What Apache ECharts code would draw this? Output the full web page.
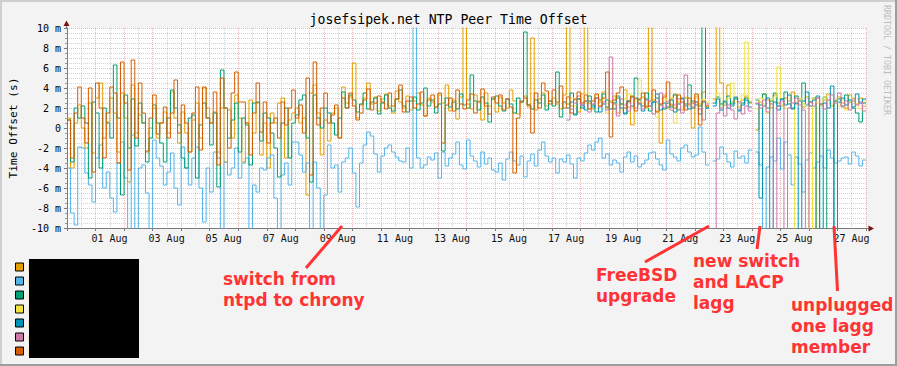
<!DOCTYPE html>
<html><head><meta charset="utf-8">
<script src="https://cdn.jsdelivr.net/npm/echarts@6/dist/echarts.min.js"></script>
<style>html,body{margin:0;padding:0;background:#F3F3F3;}#c{width:897px;height:366px;}</style>
</head><body><div id="c"></div><script>
// time: days since 31 Jul 00:00, one value every 3 hours (8 per day, 224 per series)
const stepDays = 0.125;
const xTickLabels = ['01 Aug','03 Aug','05 Aug','07 Aug','09 Aug','11 Aug','13 Aug','15 Aug','17 Aug','19 Aug','21 Aug','23 Aug','25 Aug','27 Aug'];
const yTickValues = [-10,-8,-6,-4,-2,0,2,4,6,8,10];
const yTickLabels = ['-10 m','-8 m','-6 m','-4 m','-2 m','0','2 m','4 m','6 m','8 m','10 m'];
const seriesNames = ['peer 1','peer 2','peer 3','peer 4','peer 5','peer 6','peer 7'];
const N = null;
const orangeVals = [
1.0,-4.0,0.5,2.3,0.0,-2.0,2.5,-2.5,
3.0,4.5,-1.0,0.6,3.0,1.5,-2.4,3.5,
1.0,-5.4,4.3,-0.5,1.3,0.5,-2.4,0.0,
2.0,-1.0,0.5,1.6,-0.5,3.6,1.0,-1.5,
1.6,-0.5,-2.4,0.8,2.5,-1.0,4.0,2.0,
0.5,1.6,-2.4,2.0,-3.4,1.8,-1.0,3.3,
1.0,-3.4,0.5,2.8,-0.5,2.5,-2.7,0.5,
-4.0,1.5,0.5,2.5,3.0,-3.0,0.8,1.5,
2.0,0.5,1.0,-6.7,3.5,4.3,1.5,-2.7,
0.8,-1.3,1.5,2.0,-1.0,4.1,2.5,3.1,
6.5,1.0,2.3,3.0,4.5,2.4,3.1,1.7,
2.9,3.4,2.2,1.5,3.7,2.6,2.0,3.2,
1.8,2.7,3.5,2.3,1.2,3.0,2.6,2.1,
3.3,2.5,4.3,1.7,2.8,0.9,3.1,11,
2.4,1.9,3.3,2.7,0.8,3.5,2.2,2.9,
1.6,3.1,2.5,2.0,3.8,2.7,1.4,2.6,
3.2,2.1,9.0,1.8,2.9,3.5,2.2,2.7,
3.0,2.4,1.9,3.3,11,2.2,2.8,1.6,
3.4,11,2.5,1.9,3.0,2.6,3.6,2.0,
2.7,3.2,1.5,2.4,3.8,2.1,0.3,2.9,
2.5,3.1,2.2,11,2.8,1.7,-1.5,3.3,
2.0,2.9,3.4,2.6,1.8,3.0,2.3,0.0,
3.1,2.4,3.6,2.2,N,2.9,11,4.5,
2.3,4.3,2.6,3.0,2.1,2.8,3.2,2.5,
N,-0.2,2.6,3.4,2.8,2.0,3.3,2.5,
2.2,3.0,2.7,3.6,2.4,2.9,2.1,3.1,
2.6,-15,3.0,2.3,2.8,3.4,2.2,2.7,
3.1,2.5,2.0,3.3,2.7,2.4,3.0,2.2];
const skyVals = [
-4.0,-8.5,-9.7,-1.9,-2.0,-4.5,-5.7,-7.4,
-3.0,-1.7,-6.0,-4.4,-7.0,-8.4,-3.5,-1.4,
-5.0,-10.5,-0.7,-10.5,-4.0,-3.7,-6.5,-10.5,
-1.2,-3.0,-3.8,-5.7,-4.4,-2.5,-6.0,-7.7,
-1.9,-4.0,-5.7,-3.0,-1.9,-6.0,-9.4,-4.0,
-6.4,-2.4,-3.0,-10.5,-3.4,-4.7,-4.0,-2.0,
-5.0,-3.5,-3.0,-10.5,-5.7,-6.4,-4.0,-4.2,
-3.0,-2.7,-7.0,-10.5,-4.7,-3.5,-5.7,-1.4,
-1.4,-2.7,-4.4,-3.5,-10.5,-3.4,-6.0,-10.5,
-6.7,-1.7,-4.0,-3.7,-6.4,-3.4,-3.0,-2.0,
-4.5,-7.9,-3.5,-1.7,-0.4,-0.8,-2.6,-4.4,
-2.8,-2.0,-1.7,-2.4,-2.9,-3.3,-3.4,-2.0,
-4.0,10.5,-3.0,-4.0,-3.7,-2.9,-3.2,-2.5,
-5.0,-2.4,-3.8,-3.0,-2.6,-1.4,-3.7,-4.1,
-1.2,-2.8,-3.3,-3.9,-2.4,-3.6,-3.0,-4.2,
-4.4,-3.5,-5.2,-3.1,-2.4,-3.3,-3.7,-2.8,
-4.9,-3.3,-2.6,-3.8,-2.2,-1.4,-2.8,-3.4,
-3.0,-4.5,-3.1,-3.4,-2.7,-3.6,-5.0,-3.0,
-3.3,-2.5,-1.7,-2.2,-1.4,-1.0,-3.0,-2.6,
-3.7,-3.2,-3.5,-4.4,-2.9,-2.4,-3.4,-2.8,
-3.9,-3.6,-3.2,-2.5,-2.4,-3.1,-3.7,-4.2,
-1.2,-2.6,-2.9,-3.3,-2.0,-1.7,-2.4,-2.9,
-2.7,0.1,-2.4,-3.7,N,-3.3,-3.1,-1.9,
-2.6,-3.4,-3.9,-2.3,-3.0,-2.8,-3.5,-2.2,
N,-2.4,-3.7,-10.5,-3.9,-2.9,-3.3,-1.0,
-4.1,-1.4,-2.7,-5.7,-2.9,-3.6,-6.4,-3.2,
-2.5,-4.0,-3.4,-2.8,-4.0,-2.2,-3.0,-3.5,
-3.3,-3.0,-2.9,-3.6,-2.4,-2.8,-3.8,-3.2];
const greenVals = [
0.8,-3.4,2.0,1.0,2.2,0.5,-5.0,2.6,
1.5,-4.0,2.0,0.5,-1.0,6.3,1.0,-6.7,
3.3,-2.0,2.9,-1.8,2.5,0.5,-3.4,-1.0,
2.3,0.5,-1.5,-3.4,1.0,3.8,2.0,0.3,
-3.0,-4.0,1.0,1.3,-5.0,0.3,2.5,1.0,
-1.7,1.5,-5.9,5.8,2.0,-1.0,0.8,2.5,
-2.4,1.0,0.3,-3.7,2.5,2.6,-1.3,1.5,
1.0,-0.5,-2.0,-4.9,0.5,2.0,-3.0,0.5,
1.3,2.8,3.3,-1.0,-5.4,3.3,1.0,0.0,
2.0,1.5,0.5,-0.7,1.0,3.6,2.0,3.3,
2.8,1.6,2.4,3.5,1.9,2.6,3.0,1.4,
2.5,3.3,2.0,1.7,2.9,3.8,2.2,1.6,
2.7,3.1,1.8,2.5,4.0,2.2,2.8,1.5,
2.4,-2.3,3.0,2.1,2.6,1.9,3.4,2.3,
2.0,5.3,2.7,1.8,3.1,2.5,0.6,2.9,
3.2,2.2,1.7,2.9,2.4,1.5,3.0,2.6,
9.6,2.3,1.9,2.8,2.5,3.3,1.8,2.7,
2.2,5.6,1.1,2.6,2.4,3.5,1.3,2.9,
2.0,2.7,3.2,2.3,1.6,2.8,3.4,2.1,
2.6,1.9,3.0,2.4,1.4,2.7,3.1,5.0,
2.8,2.2,3.5,1.7,2.6,3.0,2.3,1.9,
2.5,2.1,3.3,1.8,2.9,2.4,4.3,2.0,
2.6,2.2,11,2.0,N,2.5,3.1,2.4,
2.7,3.2,2.2,2.9,1.8,2.5,3.0,2.6,
N,2.8,2.3,3.4,2.0,2.7,3.5,2.2,
2.9,3.6,2.4,2.0,3.2,2.7,4.5,2.3,
2.6,3.0,-15,2.4,3.1,-15,-15,2.7,
2.9,2.2,3.3,2.6,2.0,1.5,0.6,2.5];
const yellowVals = [
N,N,N,N,N,N,N,N, N,N,N,N,N,N,N,N, N,N,N,N,N,N,N,N, N,N,N,N,N,N,N,N,
N,N,N,N,N,N,N,N, N,N,N,N,N,N,N,N, N,N,N,N,N,N,N,N, N,N,N,N,N,N,N,N,
N,N,N,N,N,N,N,N, N,N,N,N,N,N,N,N, N,N,N,N,N,N,N,N, N,N,N,N,N,N,N,N,
N,N,N,N,N,N,N,N, N,N,N,N,N,N,N,N, N,N,N,N,N,N,N,N, N,N,N,N,N,N,N,N,
N,N,N,N,N,N,N,N,
N,N,N,N,2.4,3.0,2.2,2.8,
3.1,2.5,1.9,2.7,3.3,2.2,2.9,1.5,
2.6,3.0,2.3,1.8,2.9,3.4,2.1,2.7,
4.8,2.5,2.0,2.9,3.2,1.1,2.4,2.8,
2.2,3.0,0.5,2.6,2.1,3.1,2.7,2.3,
3.3,2.4,2.9,2.6,N,2.8,3.5,2.2,
2.5,3.0,4.5,2.6,2.1,3.3,8.6,2.7,
N,1.9,3.0,2.4,1.5,2.8,3.1,6.1,
2.3,2.0,-15,-15,2.6,3.0,2.4,2.2,
-15,3.0,2.5,2.2,3.1,2.7,2.4,2.9,
2.2,2.8,1.8,2.6,3.0,2.4,1.9,2.7];
const blueVals = [
N,N,N,N,N,N,N,N, N,N,N,N,N,N,N,N, N,N,N,N,N,N,N,N, N,N,N,N,N,N,N,N,
N,N,N,N,N,N,N,N, N,N,N,N,N,N,N,N, N,N,N,N,N,N,N,N, N,N,N,N,N,N,N,N,
N,N,N,N,N,N,N,N, N,N,N,N,N,N,N,N, N,N,N,N,N,N,N,N, N,N,N,N,N,N,N,N,
N,N,N,N,N,N,N,N, N,N,N,N,N,N,N,N, N,N,N,N,N,N,N,N, N,N,N,N,N,N,N,N,
N,N,N,N,N,N,N,N,
N,N,N,N,2.0,2.6,1.4,2.9,
2.3,1.8,2.7,2.1,3.0,1.6,2.4,2.8,
1.9,2.5,3.2,2.0,1.5,2.7,2.2,3.0,
2.4,1.7,2.9,2.2,2.6,3.4,1.8,2.5,
2.1,2.8,1.6,2.4,3.0,2.2,1.9,2.7,
2.3,1.4,2.6,2.0,N,2.2,2.9,1.8,
2.6,2.0,2.4,3.1,1.7,2.3,2.8,2.1,
N,2.4,-7.0,2.2,3.0,-15,2.6,1.8,
2.9,2.3,3.3,1.9,2.5,-15,2.7,3.6,
2.2,2.8,3.2,-15,2.5,2.0,4.2,-15,
2.6,3.0,2.3,2.8,2.1,3.4,2.5,2.9];
const pinkVals = [
N,N,N,N,N,N,N,N, N,N,N,N,N,N,N,N, N,N,N,N,N,N,N,N, N,N,N,N,N,N,N,N,
N,N,N,N,N,N,N,N, N,N,N,N,N,N,N,N, N,N,N,N,N,N,N,N, N,N,N,N,N,N,N,N,
N,N,N,N,N,N,N,N, N,N,N,N,N,N,N,N, N,N,N,N,N,N,N,N, N,N,N,N,N,N,N,N,
N,N,N,N,N,N,N,N, N,N,N,N,N,N,N,N, N,N,N,N,N,N,N,N, N,N,N,N,N,N,N,N,
N,N,N,N,N,N,N,N,
N,N,N,N,0.8,1.9,2.5,3.2,
2.2,2.7,1.6,2.4,3.0,2.1,2.6,1.8,
7.1,2.4,1.2,2.9,2.3,1.7,3.1,2.0,
2.5,1.9,2.8,2.2,1.4,2.6,3.5,2.0,
2.7,1.8,2.3,2.9,1.5,5.3,2.4,2.1,
2.6,1.9,0.8,2.4,N,-15,1.5,2.0,
1.2,2.3,1.8,0.9,2.6,1.4,2.2,1.7,
N,2.5,2.0,2.8,1.6,2.4,-15,2.2,
2.7,-15,2.0,2.5,3.0,2.3,1.8,-15,
2.6,2.2,3.0,2.4,1.9,2.8,3.3,2.5,
3.5,2.1,2.7,1.8,2.9,2.3,2.6,1.7];
const vermilionVals = [
0.8,-3.0,1.5,4.1,1.0,-1.5,4.0,-4.4,
4.5,2.0,-3.0,1.5,4.1,3.5,-3.5,6.6,
2.5,-4.2,6.8,-1.0,4.5,1.5,-2.3,1.0,
3.3,-0.6,0.5,2.1,-1.0,1.5,4.8,-0.5,
2.3,0.5,-2.4,1.5,4.1,-2.2,4.1,1.0,
0.5,3.6,-3.7,5.0,2.0,-2.0,3.5,5.6,
2.6,2.6,0.5,-2.7,1.5,4.5,-0.4,2.6,
-1.5,0.5,1.0,-1.0,2.6,0.3,2.0,3.8,
1.0,2.3,-0.5,5.0,-4.7,6.6,0.3,2.0,
3.5,0.5,1.3,2.3,-1.0,3.0,2.0,3.5,
2.2,0.8,1.5,2.8,3.9,1.8,2.5,3.2,
2.6,1.9,3.5,2.2,2.9,4.3,1.6,2.7,
3.1,2.0,2.4,3.6,1.2,2.8,3.3,2.1,
3.5,-1.5,2.3,3.0,1.7,3.8,2.4,1.9,
2.8,3.4,1.5,2.6,3.9,2.2,1.4,3.1,
2.5,3.3,1.8,2.9,2.1,-4.5,1.0,2.7,
3.0,2.3,-0.5,3.5,2.0,4.5,3.7,2.4,
3.8,2.6,4.2,2.0,3.1,1.5,2.9,3.6,
2.5,3.3,1.9,2.7,3.4,2.2,3.0,5.6,
-0.9,2.8,3.5,4.1,2.0,2.6,3.2,1.7,
2.9,3.5,2.1,2.7,3.8,1.6,2.4,3.1,
4.6,2.3,2.0,3.3,2.6,1.8,3.0,2.5,
3.4,0.3,2.7,2.2,N,N,N,N,
N,N,N,N,N,N,N,N, N,N,N,N,N,N,N,N, N,N,N,N,N,N,N,N,
N,N,N,N,N,N,N,N, N,N,N,N,N,N,N,N];

const allVals = [orangeVals, skyVals, greenVals, yellowVals, blueVals, pinkVals, vermilionVals];
const colors = ['#E69F00','#56B4E9','#009E73','#F0E442','#0092B4','#CC79A7','#D55E00'];
const mono = '"DejaVu Sans Mono", monospace';

function toData(vals){
  const d = vals.map((v,i)=>[i*stepDays, v]);
  d.push([vals.length*stepDays, vals[vals.length-1]]);
  return d;
}

const chart = echarts.init(document.getElementById('c'), null, {renderer:'svg'});
const red = '#FF3333';
const annFont = 'bold 17px "DejaVu Sans", sans-serif';
const majorGrid = {color:'rgba(225,80,80,0.42)', width:1, type:[1,1]};
const minorGrid = {color:'rgba(150,150,150,0.42)', width:1, type:[1,1]};
chart.setOption({
  animation:false,
  backgroundColor:'#F3F3F3',
  title:{text:'josefsipek.net NTP Peer Time Offset', left:'center', top:12, padding:0,
    textStyle:{fontFamily:mono, fontSize:13.2, fontWeight:'normal', color:'#000', lineHeight:14}},
  grid:{left:66, top:28, width:800, height:200, show:true, backgroundColor:'#FFFFFF', borderWidth:0},
  legend:{orient:'vertical', left:15, top:261, bottom:0, padding:0, itemWidth:8, itemHeight:8, itemGap:2, icon:'rect',
    selectedMode:false, itemStyle:{borderColor:'#000', borderWidth:1},
    textStyle:{fontSize:9, lineHeight:12, color:'#000'}, data:seriesNames},
  xAxis:{type:'value', min:0, max:28, interval:1,
    axisLine:{show:true, onZero:false, lineStyle:{color:'#7A7A7A', width:1}},
    axisTick:{show:true, length:3, lineStyle:{color:'#7A7A7A'}},
    minorTick:{show:false, splitNumber:2},
    splitLine:{show:true, lineStyle:majorGrid},
    minorSplitLine:{show:true, lineStyle:minorGrid},
    axisLabel:{fontFamily:mono, fontSize:10, color:'#111', margin:5, padding:[0,0,0,28],
      formatter:function(v){ const k=(v-1)/2; return (Number.isInteger(k)&&k>=0&&k<xTickLabels.length)?xTickLabels[k]:''; }}},
  yAxis:{type:'value', min:-10, max:10, interval:2,
    name:'Time Offset (s)', nameLocation:'middle', nameGap:48, nameRotate:90,
    nameTextStyle:{fontFamily:mono, fontSize:11.2, color:'#000'},
    axisLine:{show:true, lineStyle:{color:'#7A7A7A', width:1}},
    axisTick:{show:true, length:3, lineStyle:{color:'#7A7A7A'}},
    minorTick:{show:true, splitNumber:4, length:2, lineStyle:{color:'#9A9A9A'}},
    splitLine:{show:true, lineStyle:majorGrid},
    minorSplitLine:{show:true, lineStyle:minorGrid},
    axisLabel:{fontFamily:mono, fontSize:10, color:'#000', margin:6,
      formatter:function(v){ const k=yTickValues.indexOf(v); return k>=0?yTickLabels[k]:''; }}},
  series: allVals.map((vals,i)=>({
    name:seriesNames[i], type:'line', step:'end', showSymbol:false, symbol:'none',
    connectNulls:false, clip:true, sampling:null,
    color:colors[i], itemStyle:{color:colors[i]},
    lineStyle:{color:colors[i], width:1}, data:toData(vals)})),
  graphic:[
    {type:'line', shape:{x1:0,y1:1,x2:897,y2:1}, style:{stroke:'#CFCFCF', lineWidth:2}, z:200},
    {type:'line', shape:{x1:1,y1:0,x2:1,y2:366}, style:{stroke:'#CFCFCF', lineWidth:2}, z:200},
    {type:'line', shape:{x1:0,y1:365,x2:897,y2:365}, style:{stroke:'#9E9E9E', lineWidth:2}, z:200},
    {type:'line', shape:{x1:896,y1:0,x2:896,y2:366}, style:{stroke:'#9E9E9E', lineWidth:2}, z:200},
    {type:'line', shape:{x1:66.5,y1:28,x2:66.5,y2:24}, style:{stroke:'#7A7A7A', lineWidth:1}, z:200},
    {type:'polygon', shape:{points:[[66.5,20.5],[63.5,26],[69.5,26]]}, style:{fill:'#7F1010'}, z:200},
    {type:'line', shape:{x1:866,y1:228.5,x2:869,y2:228.5}, style:{stroke:'#7A7A7A', lineWidth:1}, z:200},
    {type:'polygon', shape:{points:[[874,228.5],[868.5,225.5],[868.5,231.5]]}, style:{fill:'#7F1010'}, z:200},
    {type:'rect', shape:{x:29,y:259,width:110,height:99}, style:{fill:'#000'}, z:200},
    {type:'text', x:887, y:60, rotation:-Math.PI/2, z:200,
      style:{text:'RRDTOOL / TOBI OETIKER', font:'8.3px "DejaVu Sans Mono"', fill:'#BDBDBD', align:'center', verticalAlign:'middle'}},
    {type:'text', x:223, y:268, z:200, style:{text:'switch from\nntpd to chrony', font:annFont, fill:red, lineHeight:21, align:'left', verticalAlign:'top'}},
    {type:'text', x:596, y:264, z:200, style:{text:'FreeBSD\nupgrade', font:annFont, fill:red, lineHeight:21, align:'left', verticalAlign:'top'}},
    {type:'text', x:693, y:250.5, z:200, style:{text:'new switch\nand LACP\nlagg', font:annFont, fill:red, lineHeight:21, align:'left', verticalAlign:'top'}},
    {type:'text', x:791, y:294, z:200, style:{text:'unplugged\none lagg\nmember', font:annFont, fill:red, lineHeight:21, align:'left', verticalAlign:'top'}},
    {type:'line', shape:{x1:306,y1:268,x2:342,y2:226}, style:{stroke:red, lineWidth:3}, z:200},
    {type:'line', shape:{x1:645,y1:262,x2:709,y2:226}, style:{stroke:red, lineWidth:3}, z:200},
    {type:'line', shape:{x1:757,y1:249,x2:760,y2:226}, style:{stroke:red, lineWidth:3}, z:200},
    {type:'line', shape:{x1:834,y1:226,x2:837.5,y2:291}, style:{stroke:red, lineWidth:3}, z:200}
  ]
});
</script></body></html>
